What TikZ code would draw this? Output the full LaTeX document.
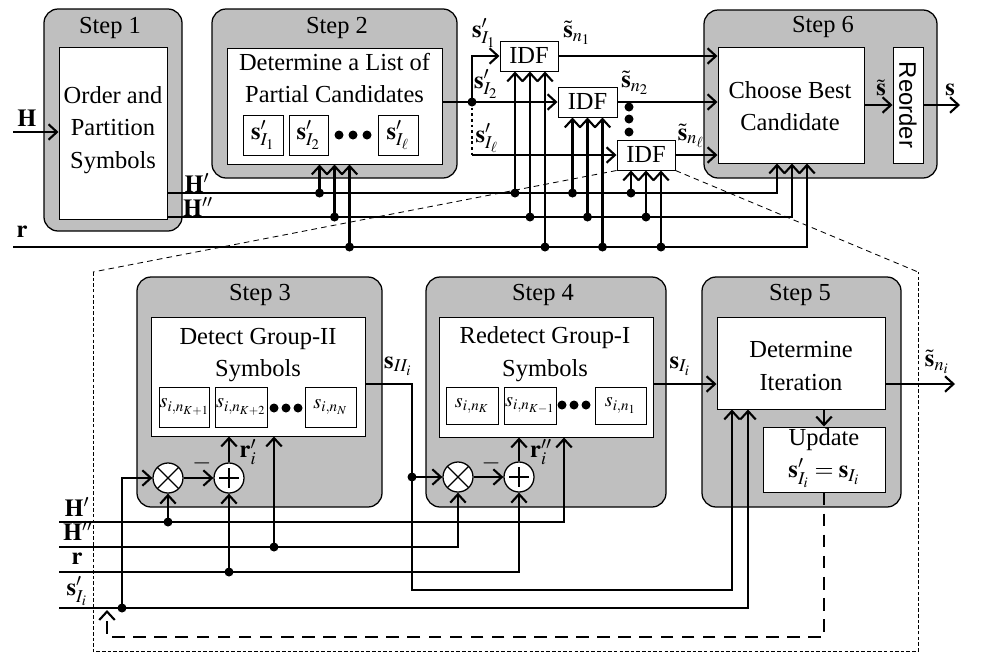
\documentclass[tikz,border=0pt]{standalone}
\usepackage{mathptmx}
\usepackage{fontspec}
\setmainfont{Liberation Serif}
\setsansfont{Liberation Sans}
\usetikzlibrary{arrows.meta,calc}
\tikzset{
  sz/.style 2 args={minimum width=#1*0.025cm,minimum height=#2*0.025cm},
  stepbox/.style={draw,fill=black!25,rounded corners=10pt,line width=0.9pt},
  taskbox/.style={draw,fill=white,line width=0.7pt,inner sep=0pt},
  symbox/.style={draw,fill=white,line width=0.7pt,inner sep=0pt},
  smallsym/.style={symbox,font=\fontsize{14.5}{16}\selectfont},
  txt/.style={align=center,inner sep=0pt},
  wire/.style={line width=1.5pt},
  opnode/.style={circle,draw,fill=white,line width=0.9pt,minimum size=0.75cm,inner sep=0pt},
  mulop/.style={opnode,path picture={\draw[line width=0.9pt] (path picture bounding box.center)
      +(-11,-11) -- +(11,11) +(-11,11) -- +(11,-11);}},
  addop/.style={opnode,path picture={\draw[line width=0.9pt] (path picture bounding box.center)
      +(-10,0) -- +(10,0) +(0,-10) -- +(0,10);}},
  zoomline/.style={line width=0.6pt,dash pattern=on 4pt off 3pt},
  frameline/.style={line width=0.6pt,dash pattern=on 2.5pt off 1.5pt},
  fbline/.style={wire,dash pattern=on 9pt off 6pt}
}
\begin{document}
\begin{tikzpicture}[x=0.025cm,y=-0.025cm,>={Straight Barb[length=6pt,width=11pt]},
    font=\fontsize{17.4}{23}\selectfont]
\useasboundingbox (0,0) rectangle (997,653);

% upper row
\node[stepbox,sz={138}{222}] (st1) at (113,120) {};
\node[taskbox,sz={108}{172}] (w1) at (113,133) {};
\node (lab1) at (110,28) {Step 1};
\node[txt] (t1) at (113,130) {Order and\\Partition\\Symbols};

\node[stepbox,sz={245}{169}] (st2) at (334.5,93.5) {};
\node[taskbox,sz={215}{116}] (w2) at (334.5,106) {};
\node (lab2) at (337,28) {Step 2};
\node[txt] (t2) at (334.5,78) {Determine a List of\\Partial Candidates};
\node[symbox,sz={40}{40}] (c1) at (263,135) {$\mathbf{s}'_{I_1}$};
\node[symbox,sz={39}{40}] (c2) at (308.5,135) {$\mathbf{s}'_{I_2}$};
\node[symbox,sz={40}{40}] (cl) at (398,135) {$\mathbf{s}'_{I_\ell}$};
\foreach \x in {339,353,367} \fill (\x,135) circle (4.5);

\node[taskbox,sz={58}{30}] (idf1) at (529,56) {IDF};
\node[taskbox,sz={59}{30}] (idf2) at (587.5,102) {IDF};
\node[taskbox,sz={58}{30}] (idf3) at (646,155) {IDF};
\foreach \y in {107,119,132} \fill (629,\y) circle (4.5);

\node[stepbox,sz={233}{168}] (st6) at (820.5,94) {};
\node[taskbox,sz={146}{116}] (w6) at (791,105) {};
\node (lab6) at (823,27) {Step 6};
\node[txt] (t6) at (790,106) {Choose Best\\Candidate};
\node[taskbox,sz={30}{116}] (ro) at (908,105) {};
\node[rotate=-90,font=\fontsize{17}{20}\sffamily] (tro) at (908,105) {Reorder};

% upper wires
\coordinate (Hin) at (13,132);
\coordinate (Hp0) at (167,193);
\coordinate (Hpp0) at (167,217);
\coordinate (r0) at (13,247);
\draw[wire,->] (Hin) -- (Hin -| w1.west);
\node (lH) at (27,118) {$\mathbf{H}$};
\node (lHp) at (197,183) {$\mathbf{H}'$};
\node (lHpp) at (198,207) {$\mathbf{H}''$};
\node (lr) at (22,232) {$\mathbf{r}$};
\draw[wire,->] (Hp0) -| ($(w6.south)+(-14,0)$);
\draw[wire,->] (Hpp0) -| ($(w6.south)+(1,0)$);
\draw[wire,->] (r0) -| ($(w6.south)+(16,0)$);
\foreach \b/\xo in {w2/0,idf1/1,idf2/0,idf3/0}
  \foreach \bus/\dx in {Hp0/-15,Hpp0/0,r0/15}{
    \coordinate (tip) at ($(\b.south)+(\xo,0)+(\dx,0)$);
    \draw[wire,->] (tip |- \bus) -- (tip);
    \fill (tip |- \bus) circle (4.5);
  }

\coordinate (jn) at (472,102);
\coordinate (jl) at (472,155);
\draw[wire] (w2.east |- jn) -- (jn);
\draw[wire,->] (jn) -- (idf2.west);
\draw[wire,->] (jn) |- (idf1.west);
\draw[wire,dash pattern=on 2pt off 2pt] (jn) -- (jl);
\draw[wire,->] (jl) -- (idf3.west);
\fill (jn) circle (4.5);
\node (ls1) at (484,33) {$\mathbf{s}'_{I_1}$};
\node (ls2) at (486,84) {$\mathbf{s}'_{I_2}$};
\node (lsl) at (487,138) {$\mathbf{s}'_{I_\ell}$};

\draw[wire,->] (idf1.east) -- (idf1.east -| w6.west);
\draw[wire,->] (idf2.east) -- (idf2.east -| w6.west);
\draw[wire,->] (idf3.east) -- (idf3.east -| w6.west);
\node (ln1) at (577,33) {$\tilde{\mathbf{s}}_{n_1}$};
\node (ln2) at (635,83) {$\tilde{\mathbf{s}}_{n_2}$};
\node (lnl) at (691,136) {$\tilde{\mathbf{s}}_{n_\ell}$};

\coordinate (sout) at (960,105);
\draw[wire,->] (w6.east) -- (ro.west);
\draw[wire,->] (ro.east) -- (sout);
\node (lst) at (881,88) {$\tilde{\mathbf{s}}$};
\node (ls) at (950,90) {$\mathbf{s}$};

% zoom frame
\coordinate (fa) at (93,272);
\coordinate (fb) at (918,272);
\coordinate (fc) at (918,651);
\coordinate (fd) at (93,651);
\draw[zoomline] (idf3.south west) -- (fa);
\draw[zoomline] (idf3.south east) -- (fb);
\draw[frameline] (fa) -- (fd) -- (fc) -- (fb);

% lower row
\node[stepbox,sz={245}{230}] (st3) at (259.5,392) {};
\node[taskbox,sz={214}{119}] (w3) at (258,376.5) {};
\node (lab3) at (260,295) {Step 3};
\node[txt] (t3) at (258,355) {Detect Group-II\\Symbols};
\node[smallsym,sz={49}{40}] (d1) at (184.5,407) {$s_{i,n_{K+1}}$};
\node[smallsym,sz={52}{40}] (d2) at (241,407) {$s_{i,n_{K+2}}$};
\node[smallsym,sz={51}{40}] (dN) at (330.5,407) {$s_{i,n_N}$};
\foreach \x in {274,286,298} \fill (\x,408) circle (4.5);
\node[mulop] (m3) at (168,478) {};
\node[addop] (p3) at (229,478) {};

\node[stepbox,sz={240}{230}] (st4) at (546,392) {};
\node[taskbox,sz={214}{120}] (w4) at (546,377) {};
\node (lab4) at (543,295) {Step 4};
\node[txt] (t4) at (545,354) {Redetect Group-I\\Symbols};
\node[smallsym,sz={52}{37}] (e1) at (472,405.5) {$s_{i,n_K}$};
\node[smallsym,sz={52}{37}] (e2) at (530,405.5) {$s_{i,n_{K-1}}$};
\node[smallsym,sz={51}{37}] (eN) at (620.5,405.5) {$s_{i,n_1}$};
\foreach \x in {562,574,586} \fill (\x,405) circle (4.5);
\node[mulop] (m4) at (458,477) {};
\node[addop] (p4) at (519,477) {};

\node[stepbox,sz={199}{230}] (st5) at (801.5,392) {};
\node[taskbox,sz={168}{92}] (w5) at (801,363) {};
\node (lab5) at (800,295) {Step 5};
\node[txt] (t5) at (801,366) {Determine\\Iteration};
\node[taskbox,sz={122}{65},align=center] (upd) at (824,459.5) {};
\node[txt] (tu) at (824,458) {Update\\$\mathbf{s}'_{I_i}=\mathbf{s}_{I_i}$};

% lower wires
\coordinate (bHp) at (59,522);
\coordinate (bHpp) at (59,547);
\coordinate (br) at (59,572);
\coordinate (bs) at (59,608);
\coordinate (yo) at (0,384);
\node (mHp) at (77,507) {$\mathbf{H}'$};
\node (mHpp) at (78,531) {$\mathbf{H}''$};
\node (mr) at (77,559) {$\mathbf{r}$};
\node (ms) at (77,591) {$\mathbf{s}'_{I_i}$};
\draw[wire,->] (bHp) -| ($(w4.south)+(18,0)$);
\draw[wire,->] (bHpp) -| (m4.south);
\draw[wire,->] (br) -| (p4.south);
\draw[wire,->] (bs) -| ($(w5.south)+(-53,0)$);

\draw[wire,->] (m3.south |- bHp) -- (m3.south);
\fill (m3.south |- bHp) circle (4.5);
\draw[wire,->] (p3.south |- br) -- (p3.south);
\fill (p3.south |- br) circle (4.5);
\coordinate (w3in) at ($(w3.south)+(16,0)$);
\draw[wire,->] (w3in |- bHpp) -- (w3in);
\fill (w3in |- bHpp) circle (4.5);
\coordinate (sb) at (122,608);
\draw[wire,->] (sb) |- (m3.west);
\fill (sb) circle (4.5);
\draw[wire,->] (m3) -- (p3);
\draw[wire,->] (p3) -- (p3 |- w3.south);
\node (neg3) at (202,463) {$-$};
\node (lr1) at (248,452) {$\mathbf{r}'_i$};

\coordinate (k1) at (412,384);
\coordinate (k2) at (412,590);
\draw[wire,->] (w3.east |- yo) -- (k1) -- (k2) -| ($(w5.south)+(-69,0)$);
\node (lsII) at (398,366) {$\mathbf{s}_{II_i}$};
\draw[wire,->] (k1 |- m4) -- (m4.west);
\fill (k1 |- m4) circle (4.5);
\draw[wire,->] (m4) -- (p4);
\draw[wire,->] (p4) -- (p4 |- w4.south);
\node (neg4) at (491,463) {$-$};
\node (lr2) at (541,452) {$\mathbf{r}''_i$};

\draw[wire,->] (w4.east |- yo) -- (w5.west |- yo);
\node (lsI) at (680,366) {$\mathbf{s}_{I_i}$};
\draw[wire,->] (upd.north |- w5.south) -- (upd.north);
\coordinate (nout) at (955,384);
\draw[wire,->] (w5.east |- yo) -- (nout);
\node (lni) at (937,362) {$\tilde{\mathbf{s}}_{n_i}$};

\coordinate (fb1) at (824,637);
\coordinate (fb2) at (107,637);
\coordinate (fb3) at (107,610);
\draw[fbline,->] (upd.south) -- (fb1) -- (fb2) -- (fb3);
\end{tikzpicture}
\end{document}
